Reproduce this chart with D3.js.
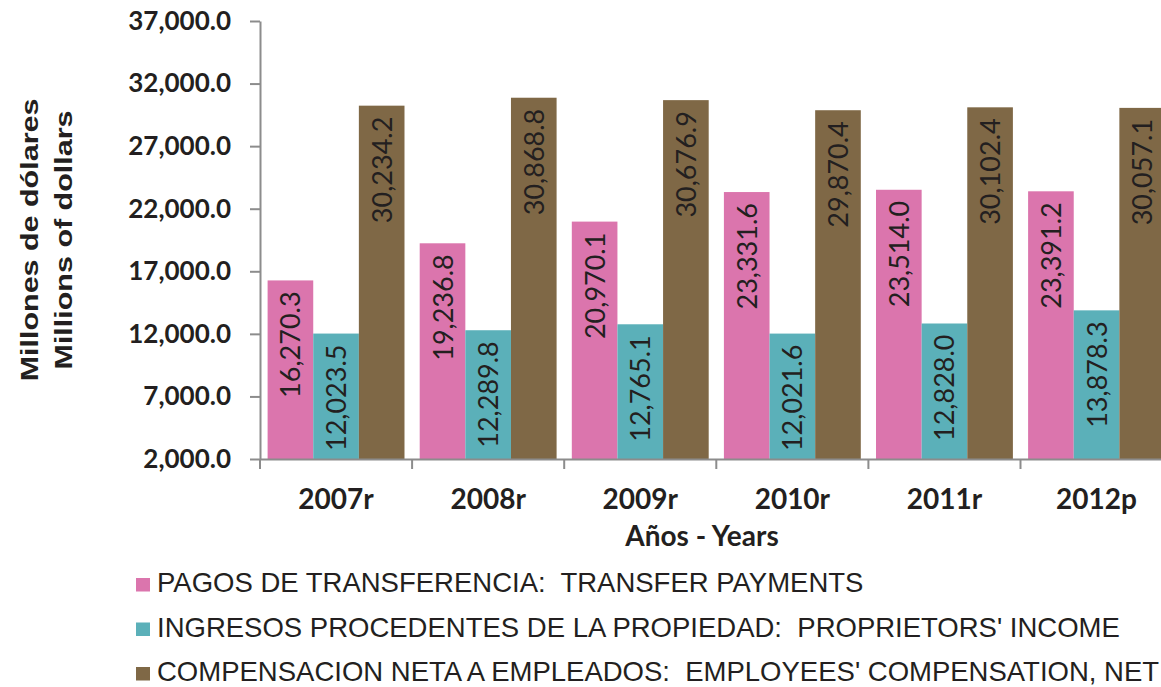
<!DOCTYPE html>
<html>
<head>
<meta charset="utf-8">
<script src="https://cdn.jsdelivr.net/npm/d3@7"></script>
<style>
  body { margin: 0; background: #fff; }
  svg { display: block; }
</style>
</head>
<body>
<svg id="chart" width="1161" height="687"></svg>
<script>
    const years = ["2007r", "2008r", "2009r", "2010r", "2011r", "2012p"];
    const transfer = [16270.3, 19236.8, 20970.1, 23331.6, 23514.0, 23391.2];
    const proprietors = [12023.5, 12289.8, 12765.1, 12021.6, 12828.0, 13878.3];
    const employees = [30234.2, 30868.8, 30676.9, 29870.4, 30102.4, 30057.1];
    const seriesNames = [
        "PAGOS DE TRANSFERENCIA:  TRANSFER PAYMENTS",
        "INGRESOS PROCEDENTES DE LA PROPIEDAD:  PROPRIETORS' INCOME",
        "COMPENSACION NETA A EMPLEADOS:  EMPLOYEES' COMPENSATION, NET"
    ];
    const colors = ["#db75ad", "#5bb0b9", "#7f6846"];
    const yTicks = [2000, 7000, 12000, 17000, 22000, 27000, 32000, 37000];

    const series = [transfer, proprietors, employees];

    const svg = d3.select("#chart");

    const plotLeft = 260, plotTop = 21, plotBottom = 459;
    const step = 152.1;

    const x = d3.scaleBand()
        .domain(years)
        .range([plotLeft, plotLeft + step * years.length])
        .paddingInner(0.1)
        .paddingOuter(0.05);

    const xs = d3.scaleBand()
        .domain(d3.range(series.length))
        .range([0, x.bandwidth()]);

    const y = d3.scaleLinear()
        .domain([2000, 37000])
        .range([plotBottom, plotTop]);

    // bars
    const groups = svg.append("g")
        .selectAll("g")
        .data(years)
        .join("g")
        .attr("transform", d => "translate(" + x(d) + ",0)");

    const cells = groups.selectAll("g")
        .data((d, i) => series.map((s, k) => ({k: k, v: s[i]})))
        .join("g");

    cells.append("rect")
        .attr("x", d => xs(d.k))
        .attr("width", xs.bandwidth())
        .attr("y", d => y(d.v))
        .attr("height", d => y(2000) - y(d.v))
        .attr("fill", d => colors[d.k]);

    cells.append("text")
        .attr("transform", d => "translate(" + (xs(d.k) + xs.bandwidth() / 2 + 10) + "," + (y(d.v) + 11) + ") rotate(-90)")
        .attr("text-anchor", "end")
        .style("font-family", "Lato, 'Open Sans', sans-serif")
        .style("font-size", "27px")
        .style("fill", "#231f20")
        .text(d => d3.format(",.1f")(d.v));

    // y axis
    const yAxis = svg.append("g")
        .attr("transform", "translate(" + plotLeft + ",0)")
        .call(d3.axisLeft(y).tickValues(yTicks).tickSize(10).tickSizeOuter(0).tickPadding(19)
            .tickFormat(d3.format(",.1f")));
    yAxis.selectAll("text")
        .style("font-family", "Lato, sans-serif")
        .style("font-weight", "bold")
        .style("font-size", "26px")
        .style("fill", "#231f20");

    // x axis
    const xAxis = svg.append("g")
        .attr("transform", "translate(0," + plotBottom + ")")
        .call(d3.axisBottom(x).tickSize(0).tickSizeOuter(0).tickPadding(30));
    xAxis.select(".domain").attr("d", "M" + plotLeft + ",0.5H" + (plotLeft + step * years.length));
    xAxis.selectAll("text")
        .style("font-family", "Lato, sans-serif")
        .style("font-weight", "bold")
        .style("font-size", "28px")
        .style("fill", "#231f20");
    xAxis.selectAll(".sep")
        .data(d3.range(years.length + 1))
        .join("line")
        .attr("class", "sep")
        .attr("x1", i => plotLeft + i * step)
        .attr("x2", i => plotLeft + i * step)
        .attr("y1", 0)
        .attr("y2", 10);

    svg.selectAll(".domain, .tick line, .sep")
        .attr("stroke", "#8c8c8c")
        .attr("stroke-width", 2);

    svg.append("text")
        .attr("x", 702)
        .attr("y", 546)
        .attr("text-anchor", "middle")
        .style("font-family", "Lato, sans-serif")
        .style("font-weight", "bold")
        .style("font-size", "28px")
        .style("fill", "#231f20")
        .text("Años - Years");

    // y title
    const yTitle = ["Millones de dólares", "Millions of dollars"];
    svg.selectAll(".ytitle")
        .data(yTitle)
        .join("text")
        .attr("class", "ytitle")
        .attr("transform", (d, i) => "translate(" + (38 + i * 34) + ",240) rotate(-90) scale(1.27,1)")
        .attr("text-anchor", "middle")
        .style("font-family", "'Liberation Sans', Arial, sans-serif")
        .style("font-weight", "bold")
        .style("font-size", "24px")
        .style("fill", "#231f20")
        .text(d => d);

    // legend
    const legend = svg.append("g")
        .selectAll("g")
        .data(seriesNames)
        .join("g")
        .attr("transform", (d, i) => "translate(136," + (592 + i * 44.5) + ")");
    legend.append("rect")
        .attr("x", 0).attr("y", -14)
        .attr("width", 14).attr("height", 13.5)
        .attr("fill", (d, i) => colors[i]);
    legend.append("text")
        .attr("x", 21)
        .attr("y", 0)
        .style("font-family", "'Liberation Sans', Arial, sans-serif")
        .style("font-size", "27.5px")
        .style("fill", "#231f20")
        .style("white-space", "pre")
        .text(d => d);
</script>
</body>
</html>
